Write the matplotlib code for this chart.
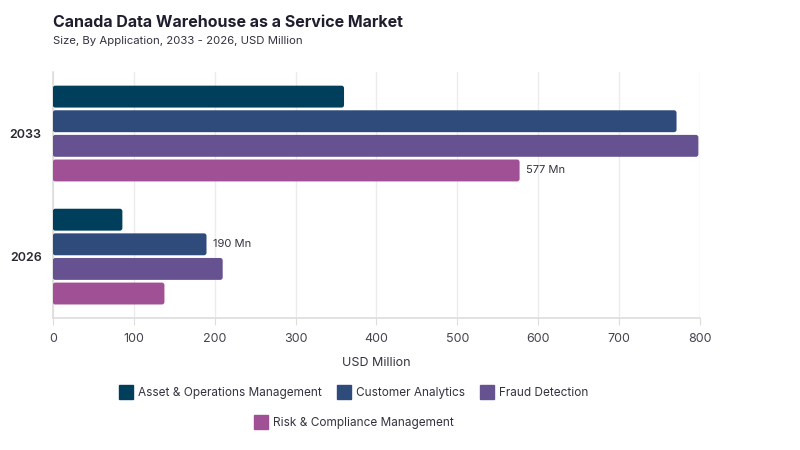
import matplotlib.pyplot as plt
import numpy as np
from matplotlib.patches import FancyBboxPatch
from matplotlib.lines import Line2D

# data
years = ['2026', '2033']
segments = ['Asset & Operations Management', 'Customer Analytics',
            'Fraud Detection', 'Risk & Compliance Management']
asset_ops = [86, 360]
customer = [190, 771]
fraud = [210, 798]
risk = [138, 577]
colors = ['#003f5c', '#2f4b7c', '#665191', '#a05195']

plt.rcParams['font.family'] = ['Inter', 'DejaVu Sans']

fig = plt.figure(figsize=(8, 4.5), dpi=100)
ax = fig.add_axes([0.066, 0.293, 0.809, 0.547])

series = [asset_ops, customer, fraud, risk]
y = np.arange(len(years))
step = 0.2
height = 0.178
# px -> data for rounded corners
xpp = 800 / 647.0
ypp = 2.0 / 246.0

for i, vals in enumerate(series):
    offs = y + (1.5 - i) * step
    bars = ax.barh(offs, vals, height=height, color=colors[i])
    for b in bars:
        b.set_visible(False)
        x0, y0 = b.get_x(), b.get_y()
        w, h = b.get_width(), b.get_height()
        p = FancyBboxPatch((x0, y0), w, h,
                           boxstyle='round,pad=0,rounding_size=%f' % (2.5 * xpp),
                           mutation_aspect=ypp / xpp,
                           facecolor=colors[i], edgecolor='none', zorder=3)
        ax.add_patch(p)

# value labels shown in the reference
ax.text(risk[1] + 8, 1 - 1.5 * step, '%d Mn' % risk[1], va='center', ha='left',
        fontsize=8, color='#333340')
ax.text(customer[0] + 8, 0 + 0.5 * step, '%d Mn' % customer[0], va='center', ha='left',
        fontsize=8, color='#333340')

ax.set_xlim(0, 800)
ax.set_ylim(-0.5, 1.5)
ax.set_xticks(range(0, 801, 100))
ax.set_yticks(y)
ax.set_yticklabels(years, fontsize=9, fontweight='semibold', color='#2a2a35')
ax.tick_params(axis='y', length=0, pad=8)
ax.tick_params(axis='x', length=5, color='#dddddd', labelsize=9, labelcolor='#444450', pad=6)
ax.grid(axis='x', color='#ececec', linewidth=1, zorder=0)
ax.set_axisbelow(True)
for s in ['top', 'right']:
    ax.spines[s].set_visible(False)
ax.spines['left'].set_color('#dddddd')
ax.spines['bottom'].set_color('#dddddd')
ax.spines['left'].set_linewidth(1.2)
ax.spines['bottom'].set_linewidth(1.2)
ax.set_xlabel('USD Million', fontsize=9, color='#333340', labelpad=8)

fig.text(0.066, 0.95, 'Canada Data Warehouse as a Service Market', fontsize=11.5,
         fontweight='bold', color='#1e1e2e', va='center')
fig.text(0.066, 0.908, 'Size, By Application, 2033 - 2026, USD Million', fontsize=8.2,
         color='#333340', va='center')

handles = [Line2D([], [], linestyle='none', marker='s', markersize=10,
                  markerfacecolor=c, markeredgecolor=c) for c in colors]
fig.legend(handles[:3], segments[:3], loc='center', bbox_to_anchor=(0.443, 0.127),
           ncol=3, frameon=False, fontsize=8.5, handlelength=1.0,
           handletextpad=0.5, columnspacing=1.4, labelcolor='#333340')
fig.legend(handles[3:], segments[3:], loc='center', bbox_to_anchor=(0.443, 0.06),
           ncol=1, frameon=False, fontsize=8.5, handlelength=1.0,
           handletextpad=0.5, labelcolor='#333340')

fig.savefig('out.png', dpi=100)
